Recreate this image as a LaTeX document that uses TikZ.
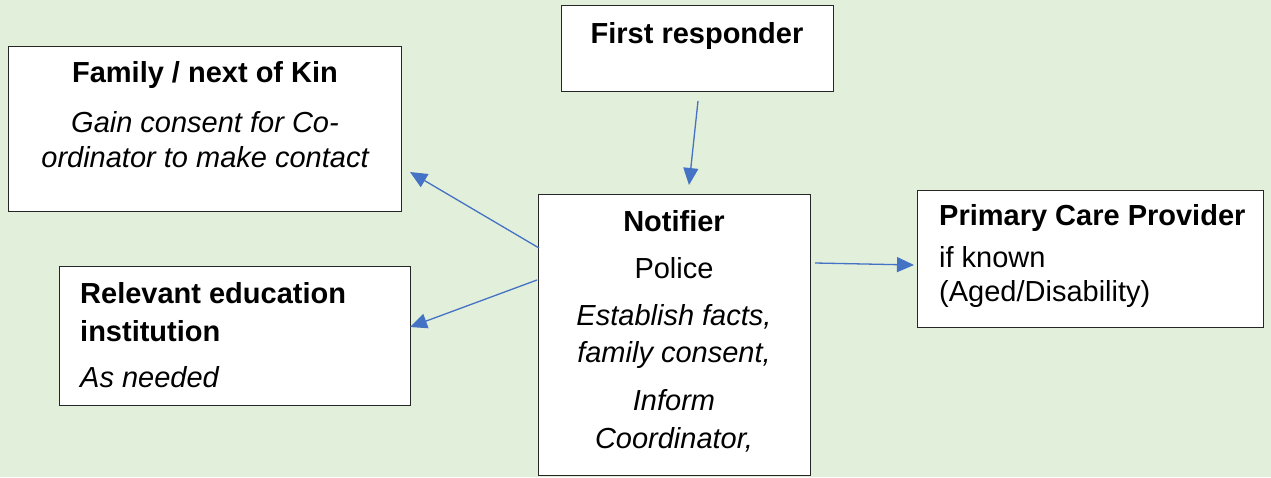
\documentclass[tikz,border=0pt]{standalone}
\usepackage{fontspec}
\setmainfont{Liberation Sans}
\usetikzlibrary{arrows.meta}
\definecolor{bgGreen}{HTML}{E2EFDA}
\definecolor{linkBlue}{HTML}{4472C4}
\definecolor{boxLine}{HTML}{262626}
\begin{document}
\begin{tikzpicture}[x=1pt,y=-1pt,
  box/.style={draw=boxLine, line width=1.4pt, fill=white, inner sep=0pt, anchor=north west},
  txt/.style={inner sep=0pt, anchor=base, font=\fontsize{29}{34}\selectfont},
  ltxt/.style={txt, anchor=base west},
  link/.style={draw=linkBlue, line width=1.3pt, -{Triangle[length=17pt,width=15pt]}}
]
% page background
\fill[bgGreen] (0,0) rectangle (1271,477);
\useasboundingbox (0,0) rectangle (1271,477);

% boxes
\node[box, minimum width=393pt, minimum height=165pt] (family)   at (8,46)    {};
\node[box, minimum width=272pt, minimum height=86pt]  (first)    at (561,5)   {};
\node[box, minimum width=272pt, minimum height=281pt] (notifier) at (538,194) {};
\node[box, minimum width=346pt, minimum height=137pt] (primary)  at (917,190) {};
\node[box, minimum width=351pt, minimum height=139pt] (school)   at (59,266)  {};

% box texts
\node[txt] (familyT1) at (205,82)  {\bfseries Family / next of Kin};
\node[txt] (familyT2) at (205,132) {\itshape Gain consent for Co-};
\node[txt] (familyT3) at (205,167) {\itshape ordinator to make contact};

\node[txt] (firstT) at (697,43) {\bfseries First responder};

\node[txt] (notT1) at (674,231) {\bfseries Notifier};
\node[txt] (notT2) at (674,278) {Police};
\node[txt] (notT3) at (674,325) {\itshape Establish facts,};
\node[txt] (notT4) at (674,362) {\itshape family consent,};
\node[txt] (notT5) at (674,410) {\itshape Inform};
\node[txt] (notT6) at (674,448) {\itshape Coordinator,};

\node[ltxt] (primT1) at (939,225) {\bfseries Primary Care Provider};
\node[ltxt] (primT2) at (939,267) {if known};
\node[ltxt] (primT3) at (939,301) {(Aged/Disability)};

\node[ltxt] (schT1) at (80,303) {\bfseries Relevant education};
\node[ltxt] (schT2) at (80,341) {\bfseries institution};
\node[ltxt] (schT3) at (80,387) {\itshape As needed};

% connector end points
\coordinate (firstOut)    at (698,101);
\coordinate (notifierIn)  at (689,185);
\coordinate (notToFamily) at (539,248);
\coordinate (familyIn)    at (410,172);
\coordinate (notToSchool) at (537,280);
\coordinate (schoolIn)    at (410,327);
\coordinate (notToPrim)   at (815,263);
\coordinate (primIn)      at (914,265);

% connectors
\draw[link] (firstOut) -- (notifierIn);
\draw[link] (notToFamily) -- (familyIn);
\draw[link] (notToSchool) -- (schoolIn);
\draw[link] (notToPrim) -- (primIn);
\end{tikzpicture}
\end{document}
